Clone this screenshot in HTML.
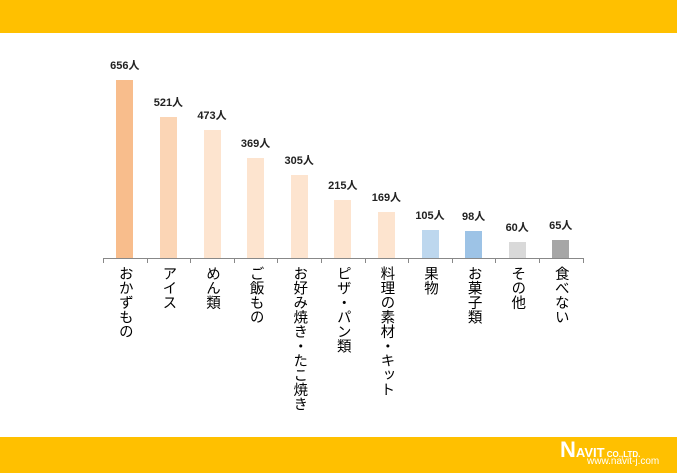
<!DOCTYPE html>
<html><head><meta charset="utf-8"><style>
body{margin:0;width:677px;height:473px;background:#fff;position:relative;overflow:hidden;font-family:"Liberation Sans","Noto Sans CJK JP",sans-serif}
.band{position:absolute;left:0;width:677px;background:#FFC000}
.bar{position:absolute;width:17px}
.val{position:absolute;width:60px;text-align:center;font-size:11px;color:#222;font-weight:bold}
.lab{position:absolute;top:266px;writing-mode:vertical-rl;text-orientation:upright;font-size:14.5px;line-height:16px;color:#000;width:16px}
.tick{position:absolute;top:258px;width:1px;height:5px;background:#888}
</style></head><body>
<div class="band" style="top:0;height:33px"></div>
<div class="band" style="top:437px;height:36px"></div>
<div style="position:absolute;left:560px;top:439px;color:#fff;font-weight:bold;font-size:22px;line-height:22px">N<span style="font-size:13px">AVIT</span><span style="font-size:8px"> CO.,LTD.</span></div>
<div style="position:absolute;left:587px;top:456px;color:#fff;font-size:10px;line-height:11px">www.navit-j.com</div>
<div style="position:absolute;left:103px;top:258px;width:480px;height:1px;background:#888"></div>
<div id="c"></div>
<script>
var d=[["おかずもの",656,"#F8BD8C"],["アイス",521,"#FBD5B5"],["めん類",473,"#FDE4CF"],["ご飯もの",369,"#FDE4CF"],["お好み焼き・たこ焼き",305,"#FDE4CF"],["ピザ・パン類",215,"#FDE4CF"],["料理の素材・キット",169,"#FDE4CF"],["果物",105,"#BDD7EE"],["お菓子類",98,"#9DC3E6"],["その他",60,"#D9D9D9"],["食べない",65,"#A6A6A6"]];
var h="",w=43.6;
for(var i=0;i<=11;i++)h+='<div class="tick" style="left:'+(103+i*w)+'px"></div>';
d.forEach(function(e,i){var cx=103+w*(i+0.5);var bh=e[1]*0.2713;
h+='<div class="bar" style="left:'+(cx-8.5)+'px;top:'+(258-bh)+'px;height:'+bh+'px;background:'+e[2]+'"></div>';
h+='<div class="val" style="left:'+(cx-30)+'px;top:'+(258-bh-23)+'px">'+e[1]+'人</div>';
h+='<div class="lab" style="left:'+(cx-8)+'px">'+e[0]+'</div>';});
document.getElementById("c").innerHTML=h;
</script>
</body></html>
